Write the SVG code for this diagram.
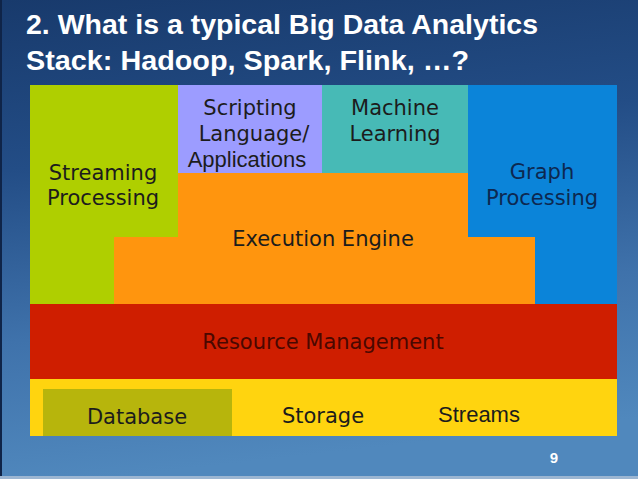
<svg xmlns="http://www.w3.org/2000/svg" width="638" height="479" viewBox="0 0 638 479">
<defs>
<linearGradient id="bg" x1="0" y1="0" x2="0.15" y2="1">
<stop offset="0" stop-color="#183a6c"/>
<stop offset="0.35" stop-color="#234d86"/>
<stop offset="0.7" stop-color="#3f72ab"/>
<stop offset="1" stop-color="#5088bd"/>
</linearGradient>
<style>
.lbl{font-family:"DejaVu Sans",sans-serif;font-size:21px;fill:#1c1c1c;text-anchor:middle}
.arial{font-family:"Liberation Sans",Arial,sans-serif;font-size:22px;fill:#1c1c1c;text-anchor:middle}
.title{font-family:"Liberation Sans",Arial,sans-serif;font-weight:bold;font-size:27px;fill:#ffffff}
</style>
</defs>
<rect x="0" y="0" width="638" height="479" fill="url(#bg)"/>
<rect x="0" y="0" width="2" height="479" fill="#0f2448"/>
<rect x="0" y="476" width="638" height="3" fill="#9cb6d2"/>
<g id="title">
<text class="title" x="26" y="34" textLength="512" lengthAdjust="spacingAndGlyphs">2. What is a typical Big Data Analytics</text>
<text class="title" x="26" y="70" textLength="443" lengthAdjust="spacingAndGlyphs">Stack: Hadoop, Spark, Flink, …?</text>
</g>
<g id="streaming">
<polygon points="30,85 178,85 178,237 114,237 114,304 30,304" fill="#afcf00"/>
<text class="lbl" x="103" y="180">Streaming</text>
<text class="lbl" x="103" y="205">Processing</text>
</g>
<g id="scripting">
<rect x="178" y="85" width="144" height="88" fill="#9c9cff"/>
<text class="lbl" x="250" y="115">Scripting</text>
<text class="lbl" x="254" y="141">Language/</text>
<text class="arial" x="247" y="167">Applications</text>
</g>
<g id="ml">
<rect x="322" y="85" width="146" height="88" fill="#47bab6"/>
<text class="lbl" x="395" y="115">Machine</text>
<text class="lbl" x="395" y="141">Learning</text>
</g>
<g id="graph">
<polygon points="468,85 617,85 617,304 535,304 535,237 468,237" fill="#0b84d9"/>
<text class="lbl" x="542" y="179" style="fill:#0d2850">Graph</text>
<text class="lbl" x="542" y="205" style="fill:#0d2850">Processing</text>
</g>
<g id="execution">
<polygon points="178,173 468,173 468,237 535,237 535,304 114,304 114,237 178,237" fill="#ff950e"/>
<text class="lbl" x="323" y="246">Execution Engine</text>
</g>
<g id="resource">
<rect x="30" y="304" width="587" height="75" fill="#cf1e00"/>
<text class="lbl" x="323" y="349" style="fill:#4a0800">Resource Management</text>
</g>
<g id="storage">
<rect x="30" y="379" width="587" height="57" fill="#ffd40f"/>
<text class="lbl" x="323" y="423">Storage</text>
<text class="arial" x="479" y="422">Streams</text>
</g>
<g id="database">
<rect x="43" y="389" width="189" height="47" fill="#b7b50c"/>
<text class="lbl" x="137" y="424">Database</text>
</g>
<g id="connectors"></g>
<text x="554" y="463" style="font-family:'Liberation Sans',Arial,sans-serif;font-weight:bold;font-size:15px;fill:#ffffff;text-anchor:middle">9</text>
</svg>
